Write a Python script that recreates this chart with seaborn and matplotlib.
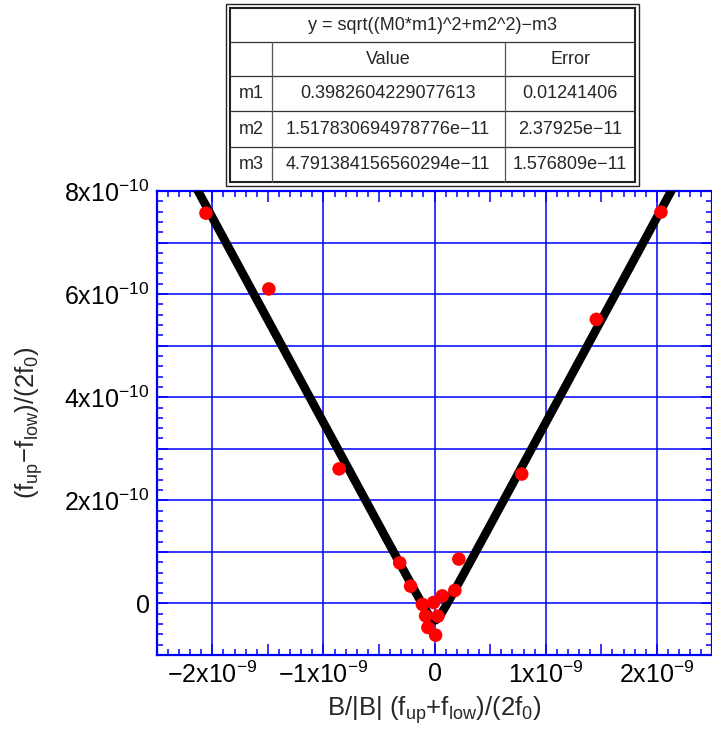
import numpy as np
import pandas as pd
import matplotlib
matplotlib.use("Agg")
import matplotlib.pyplot as plt
from matplotlib.ticker import MultipleLocator, FuncFormatter
from matplotlib.patches import Rectangle
import seaborn as sns

# ---------------- data ----------------
x_vals = [-2.057e-9, -1.491e-9, -0.859e-9, -0.314e-9, -0.216e-9, -0.110e-9,
          -0.081e-9, -0.060e-9, -0.009e-9, 0.009e-9, 0.030e-9, 0.069e-9,
          0.182e-9, 0.218e-9, 0.784e-9, 1.455e-9, 2.036e-9]
y_vals = [7.57e-10, 6.10e-10, 2.61e-10, 0.788e-10, 0.336e-10, -0.019e-10,
          -0.24e-10, -0.466e-10, 0.019e-10, -0.615e-10, -0.246e-10, 0.147e-10,
          0.252e-10, 0.86e-10, 2.51e-10, 5.51e-10, 7.59e-10]

param_names = ["m1", "m2", "m3"]
param_values = ["0.3982604229077613", "1.517830694978776e\u221211", "4.791384156560294e\u221211"]
param_errors = ["0.01241406", "2.37925e\u221211", "1.576809e\u221211"]
m1, m2, m3 = 0.3982604229077613, 1.517830694978776e-11, 4.791384156560294e-11
fit_title = "y = sqrt((M0*m1)^2+m2^2)\u2212m3"

x_labels = {-2: "\u22122x10$^{-9}$", -1: "\u22121x10$^{-9}$", 0: "0",
            1: "1x10$^{-9}$", 2: "2x10$^{-9}$"}
y_labels = {0: "0", 2: "2x10$^{-10}$", 4: "4x10$^{-10}$",
            6: "6x10$^{-10}$", 8: "8x10$^{-10}$"}

# ---------------- style ----------------
sns.set_style("ticks")
plt.rcParams["font.family"] = ["Liberation Sans", "DejaVu Sans"]
plt.rcParams["mathtext.fontset"] = "custom"
plt.rcParams["mathtext.rm"] = "Liberation Sans"
plt.rcParams["mathtext.it"] = "Liberation Sans:italic"
plt.rcParams["mathtext.default"] = "regular"

BLUE = "#0000ff"

fig = plt.figure(figsize=(7.12, 7.34), dpi=100)
fig.patch.set_facecolor("white")

# ---------------- table (pixel coordinates overlay) ----------------
tab = fig.add_axes([0, 0, 1, 1])
tab.set_xlim(0, 712)
tab.set_ylim(734, 0)
tab.axis("off")
tab.add_patch(Rectangle((226, 4), 413, 182, fill=True, facecolor="white",
                        edgecolor="#222222", lw=1.0))
tab.add_patch(Rectangle((230, 8), 405, 174, fill=False,
                        edgecolor="#222222", lw=1.5))
for yy in [42, 76, 111, 147]:
    tab.plot([230, 635], [yy, yy], color="#333333", lw=0.9)
for xx in [272, 505]:
    tab.plot([xx, xx], [42, 182], color="#555555", lw=0.9)
tfs = 13
tab.text(432, 25, fit_title, ha="center", va="center", fontsize=tfs)
tab.text(388, 59, "Value", ha="center", va="center", fontsize=tfs)
tab.text(570, 59, "Error", ha="center", va="center", fontsize=tfs)
row_y = [93.5, 129, 164.5]
for name, val, err, ry in zip(param_names, param_values, param_errors, row_y):
    tab.text(251, ry, name, ha="center", va="center", fontsize=tfs)
    tab.text(388, ry, val, ha="center", va="center", fontsize=tfs)
    tab.text(570, ry, err, ha="center", va="center", fontsize=tfs)

# ---------------- main plot ----------------
ax = fig.add_axes([0.2201, 0.1076, 0.7806, 0.6322])
xlim = (-2.5e-9, 2.5e-9)
ylim = (-1e-10, 8e-10)

M0 = np.linspace(xlim[0], xlim[1], 801)
fit_df = pd.DataFrame({"x": M0, "y": np.sqrt((M0 * m1) ** 2 + m2 ** 2) - m3})
pts = pd.DataFrame({"x": x_vals, "y": y_vals})

# vertical grid lines at major (1e-9) positions
for k in x_labels:
    ax.axvline(k * 1e-9, color=BLUE, lw=1.1, zorder=1)

sns.lineplot(data=fit_df, x="x", y="y", color="black", lw=6.2, ax=ax,
             estimator=None, sort=False, zorder=3)
sns.scatterplot(data=pts, x="x", y="y", color="red", s=95, edgecolor="none",
                ax=ax, zorder=4)

ax.set_xlim(*xlim)
ax.set_ylim(*ylim)

ax.xaxis.set_major_locator(MultipleLocator(0.5e-9))
ax.xaxis.set_minor_locator(MultipleLocator(0.1e-9))
ax.yaxis.set_major_locator(MultipleLocator(1e-10))
ax.yaxis.set_minor_locator(MultipleLocator(0.2e-10))


def xfmt(v, pos):
    k = v / 1e-9
    if abs(k - round(k)) < 1e-6:
        return x_labels.get(int(round(k)), "")
    return ""


def yfmt(v, pos):
    k = int(round(v / 1e-10))
    return y_labels.get(k, "")


ax.xaxis.set_major_formatter(FuncFormatter(xfmt))
ax.yaxis.set_major_formatter(FuncFormatter(yfmt))

ax.grid(axis="y", which="major", color=BLUE, lw=1.1)
ax.grid(axis="x", visible=False)
ax.set_axisbelow(True)

ax.tick_params(which="both", direction="in", top=True, right=True,
               color=BLUE, width=1.1, labelsize=18, labelcolor="black")
ax.tick_params(which="major", length=8, pad=5)
ax.tick_params(which="minor", length=4)
for sp in ax.spines.values():
    sp.set_color(BLUE)
    sp.set_linewidth(1.6)

ax.set_xlabel("B/|B| (f$_{up}$+f$_{low}$)/(2f$_0$)", fontsize=18.5, labelpad=4)
ax.set_ylabel("(f$_{up}$\u2212f$_{low}$)/(2f$_0$)", fontsize=18.5, labelpad=14)

fig.savefig("out.png", dpi=100, facecolor="white")
